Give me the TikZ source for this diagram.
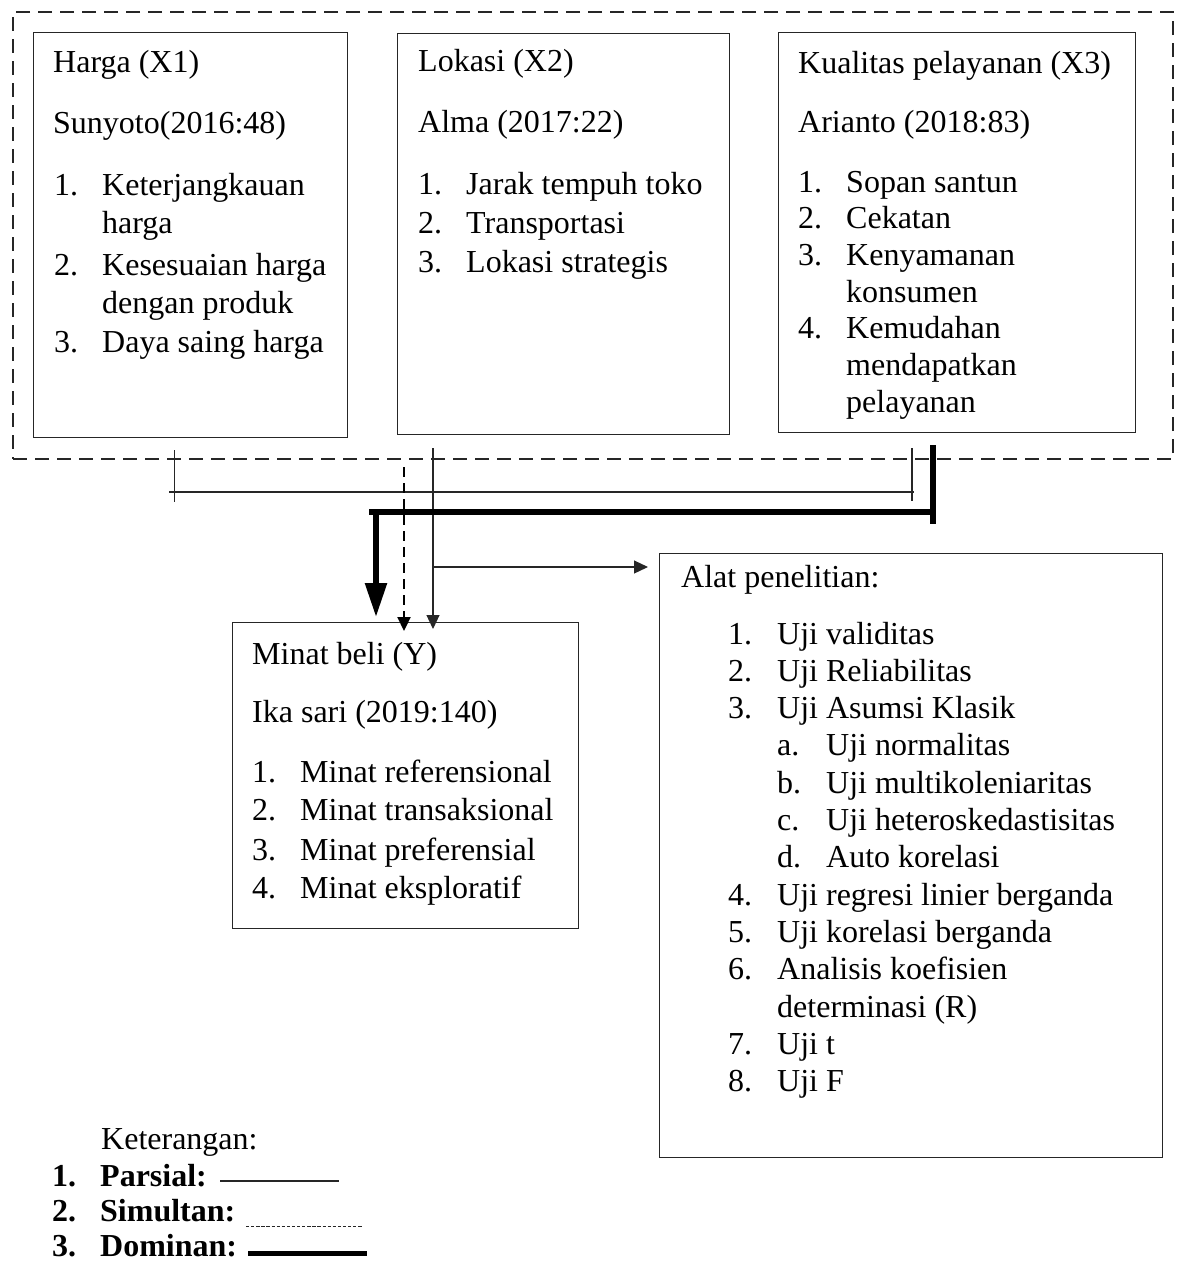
\documentclass[tikz,border=0pt]{standalone}
\usepackage{fontspec}
\setmainfont{Liberation Serif}
\usetikzlibrary{arrows.meta}
\begin{document}
\begin{tikzpicture}[x=1pt,y=-1pt,
  box/.style={draw=black!85, line width=1.4pt, anchor=north west, inner sep=0pt},
  txt/.style={anchor=base west, inner sep=0pt, font=\fontsize{32}{38}\selectfont},
  btxt/.style={anchor=base west, inner sep=0pt, font=\fontsize{32}{38}\selectfont\bfseries},
  thinline/.style={line width=1.2pt, draw=black!85},
  thickline/.style={line width=5.5pt, draw=black},
  simul/.style={line width=2.2pt, dash pattern=on 10pt off 6pt},
  tipS/.style={-{Triangle[length=14pt,width=13pt]}},
  tipB/.style={-{Triangle[length=34pt,width=21pt]}}]
\useasboundingbox (0,0) rectangle (1179,1261);

% group frame
\node[draw=black!85, line width=2pt, dash pattern=on 14pt off 8pt, anchor=north west,
  inner sep=0pt, minimum width=1160pt, minimum height=447pt] (grp) at (12,11) {};

% boxes
\node[box, minimum width=314pt, minimum height=405pt] (bx1) at (33,32) {};
\node[box, minimum width=332pt, minimum height=401pt] (bx2) at (397,33) {};
\node[box, minimum width=357pt, minimum height=400pt] (bx3) at (778,32) {};
\node[box, minimum width=346pt, minimum height=306pt] (bxy) at (232,622) {};
\node[box, minimum width=503pt, minimum height=604pt] (bxa) at (659,553) {};

% box 1
\node[txt] (t1) at (53,72) {Harga (X1)};
\node[txt] (a1) at (53,133) {Sunyoto(2016:48)};
\node[txt] (n11) at (54,195) {1.};
\node[txt] (i11) at (102,195) {Keterjangkauan};
\node[txt] (i11b) at (102,233) {harga};
\node[txt] (n12) at (54,275) {2.};
\node[txt] (i12) at (102,275) {Kesesuaian harga};
\node[txt] (i12b) at (102,313) {dengan produk};
\node[txt] (n13) at (54,352) {3.};
\node[txt] (i13) at (102,352) {Daya saing harga};

% box 2
\node[txt] (t2) at (418,71) {Lokasi (X2)};
\node[txt] (a2) at (418,132) {Alma (2017:22)};
\node[txt] (n21) at (418,194) {1.};
\node[txt] (i21) at (466,194) {Jarak tempuh toko};
\node[txt] (n22) at (418,233) {2.};
\node[txt] (i22) at (466,233) {Transportasi};
\node[txt] (n23) at (418,272) {3.};
\node[txt] (i23) at (466,272) {Lokasi strategis};

% box 3
\node[txt] (t3) at (798,73) {Kualitas pelayanan (X3)};
\node[txt] (a3) at (798,132) {Arianto (2018:83)};
\node[txt] (n31) at (798,192) {1.};
\node[txt] (i31) at (846,192) {Sopan santun};
\node[txt] (n32) at (798,228) {2.};
\node[txt] (i32) at (846,228) {Cekatan};
\node[txt] (n33) at (798,265) {3.};
\node[txt] (i33) at (846,265) {Kenyamanan};
\node[txt] (i33b) at (846,302) {konsumen};
\node[txt] (n34) at (798,338) {4.};
\node[txt] (i34) at (846,338) {Kemudahan};
\node[txt] (i34b) at (846,375) {mendapatkan};
\node[txt] (i34c) at (846,412) {pelayanan};

% box Y
\node[txt] (ty) at (252,664) {Minat beli (Y)};
\node[txt] (ay) at (252,722) {Ika sari (2019:140)};
\node[txt] (ny1) at (252,782) {1.};
\node[txt] (iy1) at (300,782) {Minat referensional};
\node[txt] (ny2) at (252,820) {2.};
\node[txt] (iy2) at (300,820) {Minat transaksional};
\node[txt] (ny3) at (252,860) {3.};
\node[txt] (iy3) at (300,860) {Minat preferensial};
\node[txt] (ny4) at (252,898) {4.};
\node[txt] (iy4) at (300,898) {Minat eksploratif};

% box Alat
\node[txt] (ta) at (681,587) {Alat penelitian:};
\node[txt] (na1) at (728,644) {1.};
\node[txt] (ia1) at (777,644) {Uji validitas};
\node[txt] (na2) at (728,681.3) {2.};
\node[txt] (ia2) at (777,681.3) {Uji Reliabilitas};
\node[txt] (na3) at (728,718.6) {3.};
\node[txt] (ia3) at (777,718.6) {Uji Asumsi Klasik};
\node[txt] (sa) at (777,755.9) {a.};
\node[txt] (isa) at (826,755.9) {Uji normalitas};
\node[txt] (sb) at (777,793.2) {b.};
\node[txt] (isb) at (826,793.2) {Uji multikoleniaritas};
\node[txt] (sc) at (777,830.5) {c.};
\node[txt] (isc) at (826,830.5) {Uji heteroskedastisitas};
\node[txt] (sd) at (777,867.8) {d.};
\node[txt] (isd) at (826,867.8) {Auto korelasi};
\node[txt] (na4) at (728,905.1) {4.};
\node[txt] (ia4) at (777,905.1) {Uji regresi linier berganda};
\node[txt] (na5) at (728,942.4) {5.};
\node[txt] (ia5) at (777,942.4) {Uji korelasi berganda};
\node[txt] (na6) at (728,979.7) {6.};
\node[txt] (ia6) at (777,979.7) {Analisis koefisien};
\node[txt] (ia6b) at (777,1017) {determinasi (R)};
\node[txt] (na7) at (728,1054.3) {7.};
\node[txt] (ia7) at (777,1054.3) {Uji t};
\node[txt] (na8) at (728,1091.6) {8.};
\node[txt] (ia8) at (777,1091.6) {Uji F};

% legend
\node[txt] (ket) at (101,1149) {Keterangan:};
\node[btxt] (ln1) at (52,1186) {1.};
\node[btxt] (lt1) at (100,1186) {Parsial:};
\node[btxt] (ln2) at (52,1221) {2.};
\node[btxt] (lt2) at (100,1221) {Simultan:};
\node[btxt] (ln3) at (52,1256) {3.};
\node[btxt] (lt3) at (100,1256) {Dominan:};
\coordinate (lp1) at (220,1181); \coordinate (lp2) at (339,1181);
\coordinate (ls1) at (246,1226); \coordinate (ls2) at (363,1226);
\coordinate (ld1) at (248,1253); \coordinate (ld2) at (367,1253);
\draw[thinline] (lp1) -- (lp2);
\draw[line width=1pt, draw=black!85, dash pattern=on 3.3pt off 1.8pt] (ls1) -- (ls2);
\draw[line width=5pt] (ld1) -- (ld2);

% connectors: partial (thin)
\coordinate (pa) at (169,492); \coordinate (pb) at (914,492);
\coordinate (ta1) at (174.5,450); \coordinate (ta2) at (174.5,502);
\coordinate (tb1) at (912,448); \coordinate (tb2) at (912,501);
\draw[thinline] (pa) -- (pb);
\draw[thinline] (ta1) -- (ta2);
\draw[thinline] (tb1) -- (tb2);
\coordinate (pv) at (433,448);
\coordinate (pvm) at (433,567);
\draw[thinline, tipS] (pv) -- ([yshift=-7pt]bxy.north -| pv);
\draw[thinline, tipS] (pvm) -- ([xshift=-11pt]bxa.west |- pvm);

% simultaneous (dashed)
\coordinate (sv) at (404,467);
\draw[simul, tipS] (sv) -- ([yshift=-9pt]bxy.north -| sv);

% dominant (thick)
\coordinate (dv1) at (933,445); \coordinate (dv2) at (933,524);
\coordinate (dh1) at (933,512); \coordinate (dh2) at (369,512);
\coordinate (dd) at (376,512);
\draw[thickline] (dv1) -- (dv2);
\draw[thickline] (dh1) -- (dh2);
\draw[thickline, tipB] (dd) -- ([yshift=5pt]bxy.north -| dd);
\end{tikzpicture}
\end{document}
